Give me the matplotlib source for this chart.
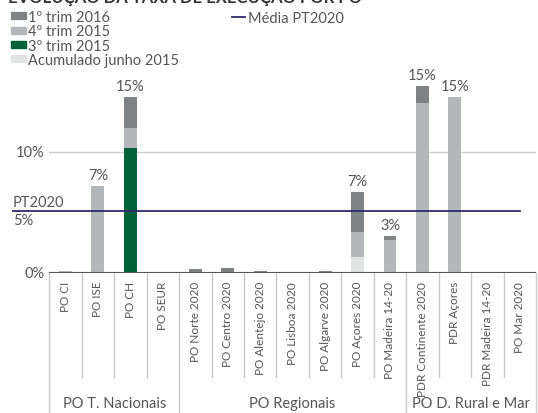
import numpy as np
import matplotlib.pyplot as plt
from matplotlib.lines import Line2D
from matplotlib.patches import Patch

plt.rcParams['font.family'] = ['Lato', 'DejaVu Sans']

# Dados (% de execução)
programas = ['PO CI', 'PO ISE', 'PO CH', 'PO SEUR',
             'PO Norte 2020', 'PO Centro 2020', 'PO Alentejo 2020', 'PO Lisboa 2020',
             'PO Algarve 2020', 'PO Açores 2020', 'PO Madeira 14-20',
             'PDR Continente 2020', 'PDR Açores', 'PDR Madeira 14-20', 'PO Mar 2020']
acum_jun15 = [0, 0, 0, 0, 0, 0, 0, 0, 0, 1.26, 0, 0, 0, 0, 0]
trim3_15 = [0, 0, 10.28, 0, 0, 0, 0, 0, 0, 0, 0, 0, 0, 0, 0]
trim4_15 = [0.12, 7.14, 1.68, 0.06, 0, 0, 0, 0.06, 0, 2.12, 2.67, 14.03, 14.55, 0, 0]
trim1_16 = [0, 0, 2.54, 0, 0.3, 0.37, 0.15, 0, 0.12, 3.26, 0.33, 1.43, 0, 0, 0]
rotulos = ['', '7%', '15%', '', '', '', '', '', '', '7%', '3%', '15%', '15%', '', '']
media_pt2020 = 5.09

grupos = ['PO T. Nacionais', 'PO Regionais', 'PO D. Rural e Mar']
grupo_inicio = [0, 4, 11]
grupo_fim = [3, 10, 14]

c_acum = '#e2e3e3'
c_t3 = '#00623a'
c_t4 = '#b4b7b9'
c_t1 = '#7e8285'
c_txt = '#555555'

fig = plt.figure(figsize=(5.38, 4.14), dpi=100)
ax = fig.add_axes([49.3 / 538, 1 - 273.5 / 414, 486.7 / 538, 16 * 12.08 / 414])

x = np.arange(len(programas))
w = 0.4
b1 = np.array(acum_jun15)
b2 = b1 + np.array(trim3_15)
b3 = b2 + np.array(trim4_15)
ax.bar(x, acum_jun15, w, color=c_acum)
ax.bar(x, trim3_15, w, bottom=b1, color=c_t3)
ax.bar(x, trim4_15, w, bottom=b2, color=c_t4)
ax.bar(x, trim1_16, w, bottom=b3, color=c_t1)
total = b3 + np.array(trim1_16)

for i, r in enumerate(rotulos):
    if r:
        ax.text(x[i], total[i] + 0.35, r, ha='center', va='bottom',
                fontsize=10.5, color=c_txt)

ax.set_xlim(-0.5, len(programas) - 0.5)
ax.set_ylim(0, 16)

# grelha e eixo
ax.axhline(10, color='#cfcfcf', lw=1, zorder=0)
ax.axhline(0, color='#555555', lw=1.5, zorder=3)
ax.plot([-1.63, 14.0], [media_pt2020] * 2, color='#2e2a6b', lw=1.3,
        clip_on=False, zorder=4)

for s in ax.spines.values():
    s.set_visible(False)
ax.set_xticks([])
ax.set_yticks([])

# rótulos do eixo y
ax.text(-0.65, 10, '10%', ha='right', va='center', fontsize=10.5, color=c_txt)
ax.text(-0.65, 0, '0%', ha='right', va='center', fontsize=10.5, color=c_txt)
ax.text(-1.63, media_pt2020 + 0.2, 'PT2020', ha='left', va='bottom',
        fontsize=10.5, color=c_txt)
ax.text(-1.63, media_pt2020 - 0.2, '5%', ha='left', va='top',
        fontsize=10.5, color=c_txt)

# rótulos das categorias
for i, p in enumerate(programas):
    ax.annotate(p, (x[i], 0), xytext=(0, -6), textcoords='offset points',
                rotation=90, ha='center', va='top', fontsize=8.5,
                color=c_txt, annotation_clip=False)

# separadores
y0 = ax.transAxes.inverted().transform(fig.transFigure.transform((0, 1 - 274 / 414)))[1]
y_curto = ax.transAxes.inverted().transform(fig.transFigure.transform((0, 1 - 378 / 414)))[1]
y_longo = ax.transAxes.inverted().transform(fig.transFigure.transform((0, 0)))[1]
limites_grupo = [g - 0.5 for g in grupo_inicio] + [grupo_fim[-1] + 0.5]
for k in range(len(programas) + 1):
    xb = k - 0.5
    xa = (xb + 0.5) / len(programas)
    ylow = y_longo if xb in limites_grupo else y_curto
    ax.add_line(Line2D([xa, xa], [y0, ylow], transform=ax.transAxes,
                       color='#c8c8c8', lw=1, clip_on=False))

for g, a, b in zip(grupos, grupo_inicio, grupo_fim):
    ax.annotate(g, ((a + b) / 2, 0), xytext=(0, -94), textcoords='offset points',
                ha='center', va='center', fontsize=10.5, color=c_txt,
                annotation_clip=False)

# título (cortado no topo)
fig.text(8 / 538, 1 - 3.5 / 414, 'EVOLUÇÃO DA TAXA DE EXECUÇÃO POR PO',
         ha='left', va='baseline', fontsize=12, fontweight='bold', color='#333333')

# legendas
handles = [Patch(color=c_t1), Patch(color=c_t4), Patch(color=c_t3), Patch(color=c_acum)]
labels = ['1º trim 2016', '4º trim 2015', '3º trim 2015', 'Acumulado junho 2015']
leg = fig.legend(handles, labels, loc='upper left', bbox_to_anchor=(11 / 538, 1 - 11 / 414),
                 frameon=False, fontsize=10.5, handlelength=1.05, handleheight=0.35,
                 handletextpad=0.15, labelspacing=0.02, borderpad=0, borderaxespad=0)
for t in leg.get_texts():
    t.set_color(c_txt)

leg2 = fig.legend([Line2D([0], [0], color='#2e2a6b', lw=1.3)], ['Média PT2020'],
                  loc='upper left', bbox_to_anchor=(232 / 538, 1 - 12 / 414),
                  frameon=False, fontsize=10.5, handlelength=0.9, handletextpad=0.2,
                  borderpad=0, borderaxespad=0)
for t in leg2.get_texts():
    t.set_color(c_txt)

fig.savefig('out.png', dpi=100)
